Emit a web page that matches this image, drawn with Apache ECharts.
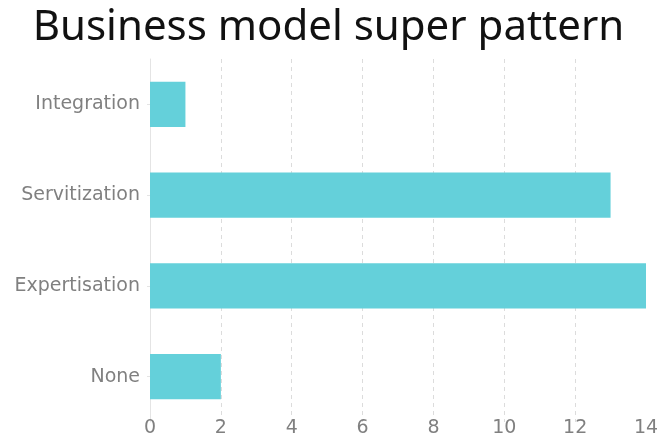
<!DOCTYPE html>
<html>
<head>
<meta charset="utf-8">
<script src="https://cdn.jsdelivr.net/npm/echarts@6/dist/echarts.min.js"></script>
<style>
  html, body { margin: 0; padding: 0; background: #fff; }
  #chart { width: 657px; height: 434px; }
</style>
</head>
<body>
<div id="chart"></div>
<script>
// Category order from top to bottom
const categories = ['Integration', 'Servitization', 'Expertisation', 'None'];
const counts = [1, 13, 14, 2];
const xTicks = [0, 2, 4, 6, 8, 10, 12, 14];

const chart = echarts.init(document.getElementById('chart'));
chart.setOption({
  animation: false,
  title: {
    text: 'Business model super pattern',
    left: 'center',
    top: 2,
    textStyle: { fontFamily: 'Noto Sans', fontSize: 42, fontWeight: 'normal', color: '#111' }
  },
  grid: { left: 150, right: 11, top: 59, bottom: 12, outerBoundsMode: 'none' },
  xAxis: {
    type: 'value',
    min: xTicks[0],
    max: xTicks[xTicks.length - 1],
    interval: 2,
    axisLine: { show: false },
    axisTick: { show: false },
    axisLabel: { color: '#808080', fontFamily: 'DejaVu Sans', fontSize: 19, margin: -3 },
    splitLine: { show: true, showMinLine: false, showMaxLine: false, lineStyle: { color: '#dcdcdc', type: [4, 4] } }
  },
  yAxis: {
    type: 'category',
    data: categories,
    inverse: true,
    axisLine: { show: true, lineStyle: { color: '#e4e4e4' } },
    axisTick: { show: true, alignWithLabel: true, length: 3, lineStyle: { color: '#e4e4e4' } },
    axisLabel: { color: '#808080', fontFamily: 'DejaVu Sans', fontSize: 19, margin: 10 }
  },
  series: [{
    type: 'bar',
    data: counts,
    barWidth: '50%',
    itemStyle: { color: '#64d0da' }
  }]
});
</script>
</body>
</html>
